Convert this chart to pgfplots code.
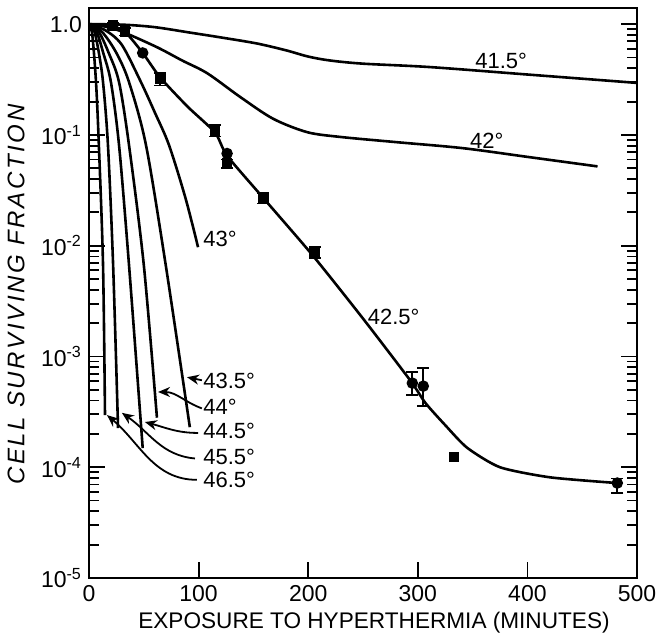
\documentclass[border=0pt]{standalone}
\usepackage{pgfplots}
\pgfplotsset{compat=1.18}
\usepackage{fontspec}
\setmainfont{Liberation Sans}
\usetikzlibrary{calc,arrows.meta}

\begin{document}
\begin{tikzpicture}
\begin{axis}[name=ax, scale only axis, width=274pt, height=285pt,
  ymode=log, xmin=0, xmax=500, ymin=1e-5, ymax=1.4,
  /pgf/number format/assume math mode=true,
  xtick={0,100,200,300,400,500},
  ytick={1e-5,1e-4,1e-3,1e-2,1e-1,1},
  yticklabels={10\textsuperscript{-5},10\textsuperscript{-4},10\textsuperscript{-3},10\textsuperscript{-2},10\textsuperscript{-1},1.0},
  minor ytick={2e-5,3e-5,4e-5,5e-5,6e-5,7e-5,8e-5,9e-5,
               2e-4,3e-4,4e-4,5e-4,6e-4,7e-4,8e-4,9e-4,
               2e-3,3e-3,4e-3,5e-3,6e-3,7e-3,8e-3,9e-3,
               2e-2,3e-2,4e-2,5e-2,6e-2,7e-2,8e-2,9e-2,
               0.2,0.3,0.4,0.5,0.6,0.7,0.8,0.9},
  tick align=inside, xtick pos=left, ytick pos=both,
  major tick length=8pt, minor tick length=5pt,
  axis line style={line width=1.1pt},
  every tick/.style={black, line width=0.9pt},
  ticklabel style={font=\fontsize{11.5}{13}\selectfont},
  xlabel={\fontsize{11.3}{13}\selectfont EXPOSURE TO HYPERTHERMIA (MINUTES)},
  ylabel={\fontsize{12}{14}\selectfont\itshape\addfontfeature{LetterSpace=11}CELL SURVIVING FRACTION},
  every axis x label/.style={at={(axis description cs:0.52,-0.079)}, anchor=center},
  every axis y label/.style={at={(axis description cs:-0.133,0.497)}, rotate=90, anchor=center},
  every axis plot/.append style={black, line width=1.3pt},
]
% 41.5
\addplot[smooth, tension=0.5] coordinates {(0,1) (31,0.99) (60,0.94) (92,0.84) (120,0.76) (153,0.67) (180,0.58) (200,0.51) (220,0.47) (250,0.44) (311,0.41) (402,0.35) (500,0.295)};
% 42
\addplot[smooth, tension=0.5] coordinates {(0,1) (15,0.95) (31,0.85) (62,0.62) (85,0.47) (108,0.36) (138,0.22) (168,0.14) (199,0.106) (229,0.096) (281,0.086) (341,0.076) (402,0.063) (464,0.052)};
% 42.5
\addplot[smooth, tension=0.4] coordinates {(0,1) (20,0.97) (33,0.85) (49,0.55) (65,0.33) (90,0.18) (115,0.105) (126,0.065) (159,0.027) (204,0.0082) (250,0.0022) (293,6.1e-4) (307,3.8e-4) (325,2.4e-4) (345,1.5e-4) (375,1.0e-4) (421,8.1e-5) (482,7.2e-5)};
% 43
\addplot[smooth, tension=0.5] coordinates {(0,1) (15,0.88) (30,0.65) (47.4,0.3) (60,0.16) (73,0.081) (88,0.027) (99.5,0.0097)};
% 43.5
\addplot[smooth, tension=0.5] coordinates {(0,1) (12,0.85) (25,0.55) (36.5,0.3) (52,0.081) (70,0.0067) (92,2.3e-4)};
% 44
\addplot[smooth, tension=0.5] coordinates {(0,1) (9,0.85) (18,0.55) (27.4,0.3) (36.5,0.081) (50,0.0067) (62,2.8e-4)};
% 44.5
\addplot[smooth, tension=0.5] coordinates {(0,1) (7,0.85) (13,0.55) (20,0.3) (27.4,0.081) (36.5,0.0067) (49,1.49e-4)};
% 45.5
\addplot[smooth, tension=0.5] coordinates {(0,1) (5,0.85) (9,0.55) (12.8,0.3) (17.3,0.081) (22,0.0067) (26.5,2.26e-4)};
% 46.5
\addplot[smooth, tension=0.5] coordinates {(0,1) (3,0.8) (6.4,0.3) (9,0.081) (12.8,0.0067) (14.6,2.95e-4)};

% data: squares with error bars
\addplot[only marks, mark=square*, mark size=2pt,
  error bars/.cd, y dir=both, y explicit,
  error bar style={line width=0.9pt}, error mark options={rotate=90, mark size=3pt, line width=0.9pt}]
 coordinates {
  (22,0.97) +- (0,0.06)
  (33,0.86) +- (0,0.07)
  (65,0.32) +- (0,0.04)
  (115,0.11) +- (0,0.013)
  (126,0.055) +- (0,0.005)
  (159,0.027) +- (0,0.003)
  (206,0.0088) +- (0,0.001)
 };
\addplot[only marks, mark=square*, mark size=2pt] coordinates {(333,1.24e-4)};
% circles
\addplot[only marks, mark=*, mark size=2.2pt] coordinates {(49,0.55) (126,0.068)};
\addplot[only marks, mark=*, mark size=2.2pt,
  error bars/.cd, y dir=both, y explicit,
  error bar style={line width=0.9pt}, error mark options={rotate=90, mark size=3pt, line width=0.9pt}]
 coordinates {
  (295,5.75e-4) += (0,1.45e-4) -= (0,1.25e-4)
  (305,5.4e-4) += (0,2.45e-4) -= (0,1.85e-4)
  (482,7.2e-5) += (0,0.7e-5) -= (0,1.3e-5)
 };

% labels
\tikzset{tl/.style={font=\fontsize{11}{13}\selectfont, inner sep=0pt}}
\node[tl, anchor=center] at (axis cs:376,0.463) {41.5°};
\node[tl, anchor=center] at (axis cs:363,0.088) {42°};
\node[tl, anchor=west] at (axis cs:254,2.27e-3) {42.5°};
\node[tl, anchor=west] at (axis cs:104,0.0115) {43°};
\node[tl, anchor=west] at (axis cs:104,6.0e-4) {43.5°};
\node[tl, anchor=west] at (axis cs:104,3.49e-4) {44°};
\node[tl, anchor=west] at (axis cs:104,2.12e-4) {44.5°};
\node[tl, anchor=west] at (axis cs:104,1.24e-4) {45.5°};
\node[tl, anchor=west] at (axis cs:104,7.66e-5) {46.5°};

\tikzset{ar/.style={-{Stealth[length=6pt,width=5pt]}, line width=0.9pt, black}}
\draw[ar] (axis cs:103,6.1e-4) -- (axis cs:89.4,6.5e-4);
\draw[ar] (axis cs:103,3.4e-4) to[out=160,in=0] (axis cs:63,4.78e-4);
\draw[ar] (axis cs:99.5,2.04e-4) to[out=180,in=-15] (axis cs:51,2.56e-4);
\draw[ar] (axis cs:96.7,1.2e-4) to[out=175,in=-35] (axis cs:30,3.1e-4);
\draw[ar] (axis cs:98.5,7.7e-5) to[out=180,in=-40] (axis cs:16.4,2.96e-4);
\end{axis}
\pgfresetboundingbox
\path[use as bounding box] ($(ax.south west)+(-44.5pt,-31pt)$) rectangle ($(ax.north east)+(12pt,4pt)$);
\end{tikzpicture}
\end{document}
